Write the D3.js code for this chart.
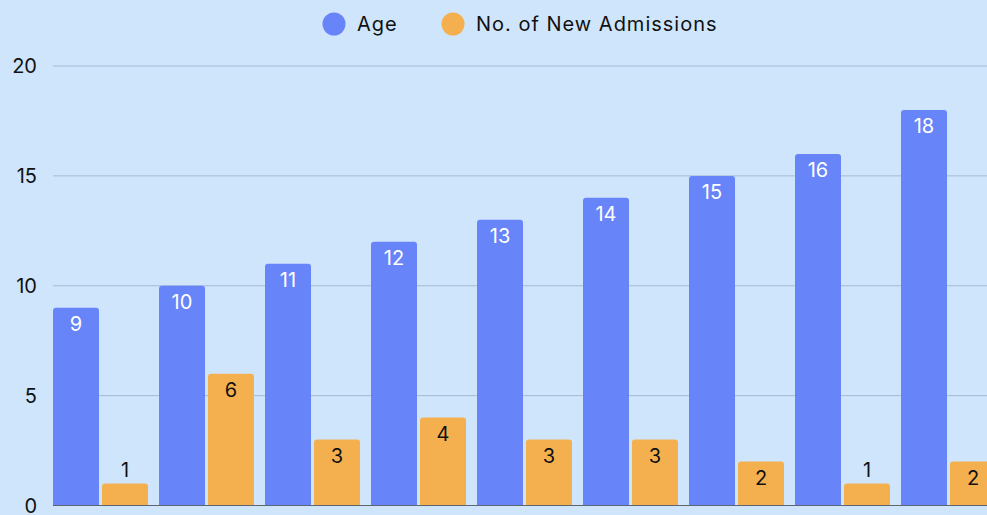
<!DOCTYPE html>
<html>
<head>
<meta charset="utf-8">
<script src="https://cdn.jsdelivr.net/npm/d3@7"></script>
<style>
  html, body { margin: 0; padding: 0; background: #cfe5fc; overflow: hidden; }
  svg { display: block; font-family: "Inter", "Liberation Sans", sans-serif; }
</style>
</head>
<body>
<div id="chart"></div>
<script>
const groups = ["g1", "g2", "g3", "g4", "g5", "g6", "g7", "g8", "g9"];
const ageValues = [9, 10, 11, 12, 13, 14, 15, 16, 18];
const admissionValues = [1, 6, 3, 4, 3, 3, 2, 1, 2];
const seriesNames = ["Age", "No. of New Admissions"];
const yTicks = [0, 5, 10, 15, 20];

const width = 987, height = 515;
const colors = ["#6884f9", "#f4b04f"];

const svg = d3.select("#chart").append("svg")
    .attr("width", width)
    .attr("height", height);

svg.append("rect").attr("width", width).attr("height", height).attr("fill", "#cfe5fc");

// group step 106px, first bar at x=53
const x0 = d3.scaleBand()
    .domain(groups)
    .range([47.5, 47.5 + 106 * groups.length])
    .paddingInner(11 / 106)
    .paddingOuter(5.5 / 106);

const x1 = d3.scaleBand()
    .domain([0, 1])
    .range([0, x0.bandwidth()])
    .paddingInner(3 / 49);

const y = d3.scaleLinear().domain([0, 20]).range([505.5, 66]);

// gridlines
svg.append("g")
    .selectAll("line")
    .data(yTicks.filter(d => d > 0))
    .enter().append("line")
    .attr("x1", 53).attr("x2", width)
    .attr("y1", d => y(d)).attr("y2", d => y(d))
    .attr("stroke", "#a4b9d6").attr("stroke-width", 1);

// y labels
svg.append("g")
    .selectAll("text")
    .data(yTicks)
    .enter().append("text")
    .attr("x", 37)
    .attr("y", d => y(d) + 7)
    .attr("text-anchor", "end")
    .attr("font-size", 20)
    .attr("fill", "#111")
    .text(d => d);

function roundTop(xp, yp, w, h, r) {
    return `M${xp},${yp + h} V${yp + r} Q${xp},${yp} ${xp + r},${yp} H${xp + w - r} Q${xp + w},${yp} ${xp + w},${yp + r} V${yp + h} Z`;
}

const rows = groups.map((g, i) => ({ g, vals: [ageValues[i], admissionValues[i]] }));

const grp = svg.append("g").selectAll("g")
    .data(rows)
    .enter().append("g")
    .attr("transform", d => `translate(${x0(d.g)},0)`);

grp.selectAll("path")
    .data(d => d.vals.map((v, k) => ({ v, k })))
    .enter().append("path")
    .attr("d", d => roundTop(x1(d.k), y(d.v), x1.bandwidth(), y(0) - y(d.v), 3))
    .attr("fill", d => colors[d.k]);

// value labels: inside the bar, above it when the bar is too short
grp.selectAll("text")
    .data(d => d.vals.map((v, k) => ({ v, k })))
    .enter().append("text")
    .attr("x", d => x1(d.k) + x1.bandwidth() / 2)
    .attr("y", d => (y(0) - y(d.v) < 30 ? y(d.v) - 7 : y(d.v) + 23))
    .attr("text-anchor", "middle")
    .attr("font-size", 20)
    .attr("fill", d => d.k === 0 ? "#ffffff" : "#111")
    .text(d => d.v);

// baseline
svg.append("line")
    .attr("x1", 53).attr("x2", width)
    .attr("y1", y(0)).attr("y2", y(0))
    .attr("stroke", "#5f6673").attr("stroke-width", 1);

// legend
const legend = svg.append("g");
const legendX = [334, 453];
seriesNames.forEach((name, i) => {
    legend.append("circle")
        .attr("cx", legendX[i]).attr("cy", 24).attr("r", 11.5)
        .attr("fill", colors[i]);
    legend.append("text")
        .attr("x", legendX[i] + 23).attr("y", 31)
        .attr("font-size", 20)
        .attr("letter-spacing", 1)
        .attr("fill", "#111")
        .text(name);
});
</script>
</body>
</html>
